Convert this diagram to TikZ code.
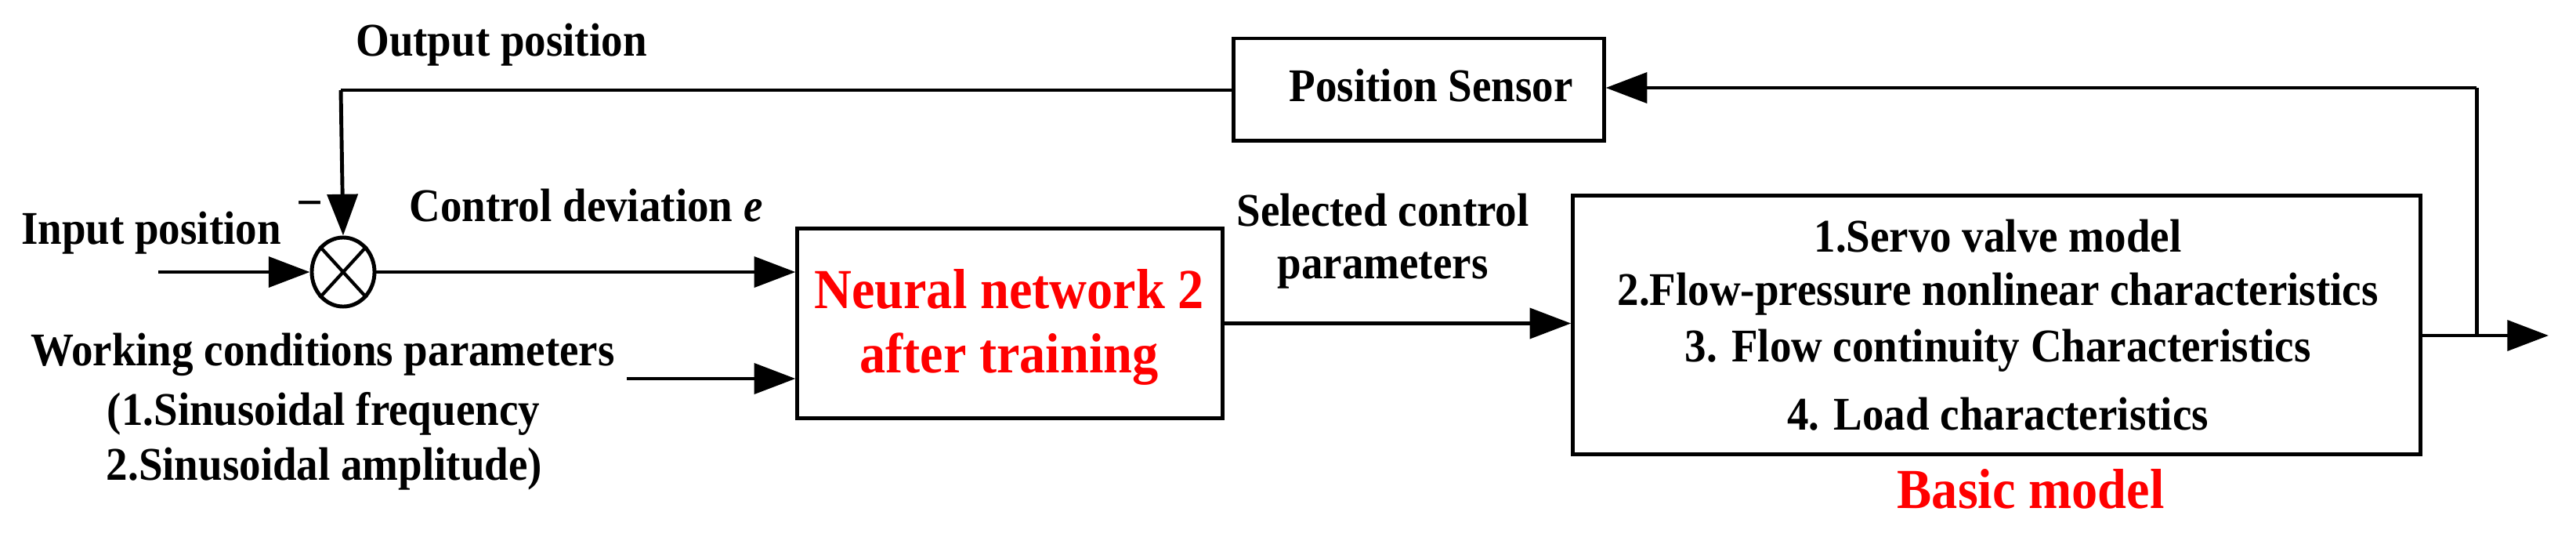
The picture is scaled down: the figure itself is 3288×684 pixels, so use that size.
\documentclass[tikz,border=0pt]{standalone}
\usepackage{fontspec}
\setmainfont{Liberation Serif}
\usetikzlibrary{arrows.meta,shapes.geometric}
\newcommand{\cn}[1]{\scalebox{0.92}[1]{#1}}
\definecolor{myred}{RGB}{255,0,0}
\begin{document}
\begin{tikzpicture}[x=0.01cm,y=-0.01cm,
  lbl/.style={font=\fontsize{17}{20}\selectfont\bfseries, inner sep=0pt, align=center},
  red/.style={font=\fontsize{20.5}{24}\selectfont\bfseries, text=myred, inner sep=0pt, align=center},
  box/.style={draw, line width=1.4pt},
  arr/.style={line width=1.4pt, -{Triangle[length=15pt,width=11pt]}},
  ln/.style={line width=1.4pt}]
\useasboundingbox (0,0) rectangle (3288,684);
% boxes
\node[box, minimum width=4.72cm, minimum height=1.30cm] (sens) at (1811,114) {};
\node[lbl, anchor=west] (senst) at (1645,109) {\cn{Position Sensor}};
\node[box, minimum width=5.42cm, minimum height=2.41cm] (nn) at (1289,412.5) {};
\node[red] (nnt1) at (1288,369) {\cn{Neural network 2}};
\node[red] (nnt2) at (1288,458) {\cn{after training}};
\node[box, minimum width=10.81cm, minimum height=3.29cm] (bm) at (2548.5,414.5) {};
\node[lbl] (b1) at (2550,301) {\cn{1.Servo valve model}};
\node[lbl] (b2) at (2550,375) {\cn{2.Flow-pressure nonlinear characteristics}};
\node[lbl] (b3) at (2550,447) {\cn{3. Flow continuity Characteristics}};
\node[lbl] (b4) at (2550,528) {\cn{4. Load characteristics}};
\node[red] (bmt) at (2592,624) {\cn{Basic model}};
% sum
\node[draw, line width=1.4pt, ellipse, minimum width=0.80cm, minimum height=0.88cm, inner sep=0pt] (sum) at (438,347) {};
\draw[line width=1.2pt] (sum.north east) -- (sum.south west) (sum.north west) -- (sum.south east);
% labels
\node[lbl] (outp) at (640,57) {\cn{Output position}};
\node[lbl] (inp) at (193,297) {\cn{Input position}};
\node[lbl] (minus) at (396,268) {\textminus};
\node[lbl] (cd) at (748,262) {\cn{Control deviation \textit{e}}};
\node[lbl] (wc) at (412,452) {\cn{Working conditions parameters}};
\node[lbl] (wc1) at (413,528) {\cn{(1.Sinusoidal frequency}};
\node[lbl] (wc2) at (414,598) {\cn{2.Sinusoidal amplitude)}};
\node[lbl] (sc1) at (1765,268) {\cn{Selected control}};
\node[lbl] (sc2) at (1765,345) {\cn{parameters}};
% coordinates
\coordinate (inS) at (202,347);
\coordinate (wcS) at (800,483);
\coordinate (tr) at (3161,112);
\coordinate (br) at (3161,428);
\coordinate (outE) at (3253,428);
\coordinate (tl) at (435,115);
% connectors
\draw[arr] (inS) -- (sum.west);
\draw[arr] (sum.east) -- (sum.east -| nn.west);
\draw[arr] (wcS) -- (wcS -| nn.west);
\draw[arr] (nn.east) -- (nn.east -| bm.west);
\draw[arr] (bm.east |- br) -- (outE);
\draw[ln] (br) -- (tr);
\draw[arr] (tr) -- (sens.east |- tr);
\draw[ln] (sens.west |- tl) -- (tl);
\draw[arr] (tl) -- (sum.north);
\end{tikzpicture}
\end{document}
